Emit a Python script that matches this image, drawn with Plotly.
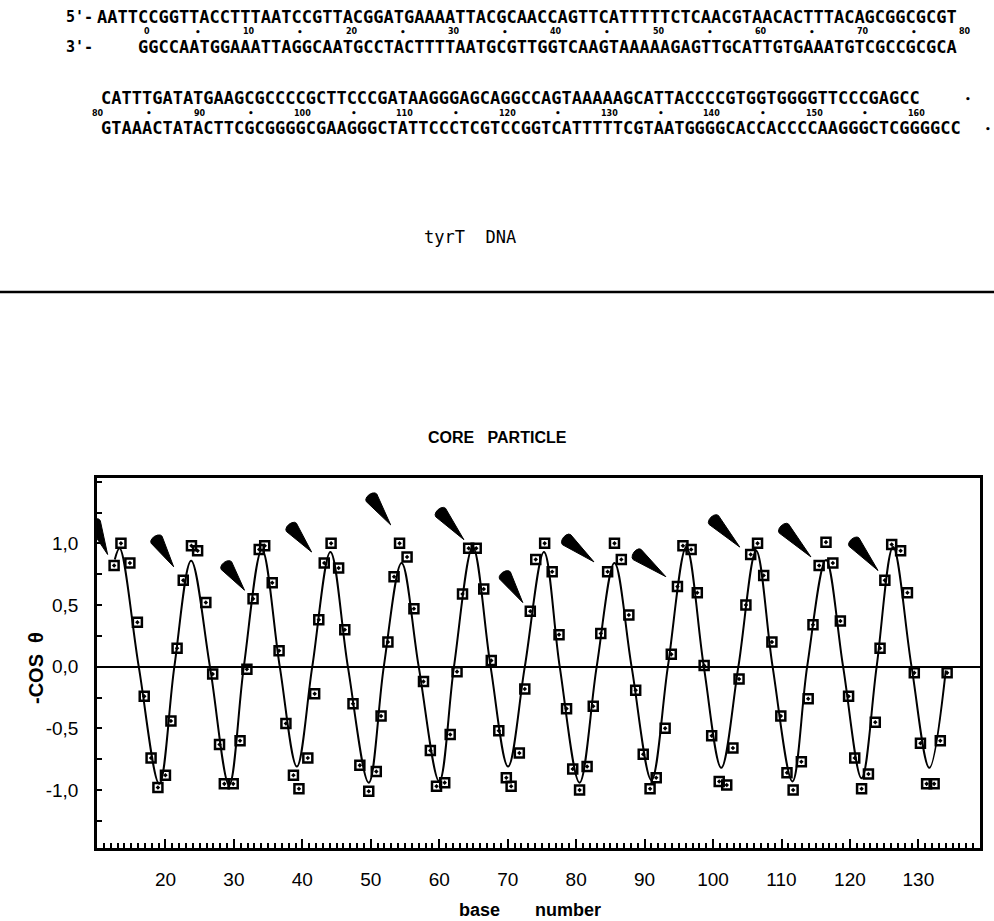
import math
import plotly.graph_objects as go

# ---------------- data ----------------
seq_top_5 = "AATTCCGGTTACCTTTAATCCGTTACGGATGAAAATTACGCAACCAGTTCATTTTTCTCAACGTAACACTTTACAGCGGCGCGT"
seq_top_3 = "GGCCAATGGAAATTAGGCAATGCCTACTTTTAATGCGTTGGTCAAGTAAAAAGAGTTGCATTGTGAAATGTCGCCGCGCA"
seq_bot_5 = "CATTTGATATGAAGCGCCCCGCTTCCCGATAAGGGAGCAGGCCAGTAAAAAGCATTACCCCGTGGTGGGGTTCCCGAGCC"
seq_bot_3 = "GTAAACTATACTTCGCGGGGCGAAGGGCTATTCCCTCGTCCGGTCATTTTTCGTAATGGGGCACCACCCCAAGGGCTCGGGGCC"
ruler_top = [0, 5, 10, 15, 20, 25, 30, 35, 40, 45, 50, 55, 60, 65, 70, 75, 80]
ruler_bottom = [80, 85, 90, 95, 100, 105, 110, 115, 120, 125, 130, 135, 140, 145, 150, 155, 160]

base_number = [
    12.5, 13.5, 14.8, 15.9, 16.9, 17.9, 18.9, 20.0, 20.8, 21.7, 22.6, 23.8, 24.7, 25.9, 26.9,
    27.9, 28.6, 29.9, 30.9, 31.9, 32.8, 33.7, 34.5, 35.6, 36.6, 37.6, 38.7, 39.5, 40.8, 41.8,
    42.4, 43.2, 44.2, 45.3, 46.2, 47.4, 48.4, 49.7, 50.8, 51.5, 52.5, 53.4, 54.2, 55.3, 56.3,
    57.7, 58.7, 59.6, 60.8, 61.6, 62.6, 63.4, 64.3, 65.4, 66.5, 67.6, 68.7, 69.8, 70.5, 71.7,
    72.5, 73.3, 74.1, 75.4, 76.5, 77.5, 78.6, 79.5, 80.5, 81.6, 82.5, 83.6, 84.6, 85.6, 86.6,
    87.7, 88.7, 89.8, 90.8, 91.7, 93.0, 93.9, 94.8, 95.6, 96.8, 97.7, 98.7, 99.8, 100.9, 102.0,
    102.9, 103.8, 104.8, 105.5, 106.5, 107.4, 108.6, 109.9, 110.8, 111.7, 112.9, 113.9, 114.6,
    115.5, 116.5, 117.5, 118.6, 119.8, 120.7, 121.7, 122.7, 123.7, 124.4, 125.1, 126.1, 127.4,
    128.4, 129.4, 130.3, 131.2, 132.3, 133.2, 134.2,
]
minus_cos_theta = [
    0.82, 1.00, 0.84, 0.36, -0.24, -0.74, -0.98, -0.88, -0.44, 0.15, 0.70, 0.98, 0.94, 0.52, -0.06,
    -0.63, -0.95, -0.95, -0.60, -0.02, 0.55, 0.95, 0.98, 0.68, 0.13, -0.46, -0.88, -0.99, -0.74, -0.22,
    0.38, 0.84, 1.00, 0.80, 0.30, -0.30, -0.80, -1.01, -0.85, -0.40, 0.20, 0.73, 1.00, 0.89, 0.47,
    -0.12, -0.68, -0.97, -0.94, -0.55, -0.04, 0.59, 0.96, 0.96, 0.63, 0.05, -0.52, -0.90, -0.97, -0.70,
    -0.18, 0.45, 0.87, 1.00, 0.77, 0.26, -0.34, -0.83, -1.00, -0.81, -0.32, 0.27, 0.77, 1.00, 0.87,
    0.42, -0.19, -0.71, -0.99, -0.90, -0.50, 0.10, 0.65, 0.98, 0.95, 0.60, 0.01, -0.56, -0.93, -0.96,
    -0.66, -0.10, 0.50, 0.91, 1.00, 0.74, 0.20, -0.40, -0.86, -1.00, -0.77, -0.26, 0.34,
    0.82, 1.01, 0.84, 0.37, -0.24, -0.74, -0.99, -0.87, -0.45, 0.15, 0.70, 0.99, 0.94,
    0.60, -0.05, -0.62, -0.95, -0.95, -0.60, -0.05,
]

# fitted curve, read at its start, extrema, zero crossings and end
fit_x = [12.6, 13.3, 16.1, 19.1, 21.3, 23.75, 26.5, 29.3, 31.45, 34.1, 36.7, 39.2, 41.45,
         44.1, 46.65, 49.7, 51.9, 54.5, 57.0, 60.0, 62.15, 64.9, 67.5, 70.05, 72.5,
         75.3, 77.6, 80.5, 83.0, 85.6, 88.1, 91.0, 93.4, 96.1, 98.65, 101.2, 103.7,
         106.3, 108.7, 111.6, 113.75, 116.5, 119.0, 121.7, 123.9, 126.3, 129.0, 131.6, 134.0]
fit_y = [0.87, 0.96, 0.0, -0.95, 0.0, 0.86, 0.0, -0.96, 0.0, 0.95, 0.0, -0.81, 0.0,
         0.93, 0.0, -0.94, 0.0, 0.84, 0.0, -0.93, 0.0, 0.97, 0.0, -0.81, 0.0,
         0.93, 0.0, -0.94, 0.0, 0.84, 0.0, -0.92, 0.0, 0.97, 0.0, -0.82, 0.0,
         0.94, 0.0, -0.93, 0.0, 0.865, 0.0, -0.905, 0.0, 0.97, 0.0, -0.82, -0.03]

# black wedge markers: wide end (tail) and tip
arrow_tail_x = [9.6, 18.7, 28.9, 38.4, 50.1, 60.2, 69.6, 78.6, 88.9, 100.1, 110.35, 120.6]
arrow_tail_y = [1.165, 1.03, 0.82, 1.13, 1.37, 1.25, 0.74, 1.03, 0.91, 1.19, 1.12, 1.01]
arrow_tip_x = [11.55, 21.2, 31.55, 41.35, 52.9, 63.6, 72.2, 82.6, 93.1, 103.9, 114.3, 124.1]
arrow_tip_y = [0.91, 0.81, 0.62, 0.93, 1.15, 1.03, 0.52, 0.85, 0.73, 0.97, 0.89, 0.78]

x_tick_vals = [20, 30, 40, 50, 60, 70, 80, 90, 100, 110, 120, 130]
x_minor_vals = [v for v in range(10, 140) if v % 10 != 0]
y_tick_vals = [-1.0, -0.5, 0.0, 0.5, 1.0]
y_tick_text = ["-1,0", "-0,5", "0,0", "0,5", "1,0"]
y_minor_vals = [-1.25, -0.75, -0.25, 0.25, 0.75, 1.25, 1.5]

# ---------------- layout geometry ----------------
W, H = 994, 921
ML, MR, MT, MB = 97, 14, 478, 73
PW, PH = W - ML - MR, H - MT - MB
XR = [10.0, 139.0]
YR = [-1.47, 1.53]
SX = PW / (XR[1] - XR[0])
SY = PH / (YR[1] - YR[0])


def pxx(x):
    return (x - ML) / PW


def pyy(y):
    return (H - MB - y) / PH


SANS = "Liberation Sans, Arial, Helvetica, sans-serif"
MONO = "DejaVu Sans Mono, Liberation Mono, monospace"

fig = go.Figure()

# wedges
wx, wy = [], []
for bx, by, tx, ty in zip(arrow_tail_x, arrow_tail_y, arrow_tip_x, arrow_tip_y):
    dxp = (tx - bx) * SX
    dyp = (ty - by) * SY
    L = math.hypot(dxp, dyp)
    ux, uy = dxp / L, dyp / L
    nx, ny = -uy, ux
    hw = 6.5
    pts = [(tx, ty)]
    for a in range(-90, 91, 30):
        r = math.radians(a)
        ox = hw * (math.sin(r) * nx - math.cos(r) * ux * 0.6)
        oy = hw * (math.sin(r) * ny - math.cos(r) * uy * 0.6)
        pts.append((bx + ox / SX, by + oy / SY))
    pts.append((tx, ty))
    for p in pts:
        wx.append(p[0])
        wy.append(p[1])
    wx.append(None)
    wy.append(None)

fig.add_trace(go.Scatter(x=wx, y=wy, mode="lines", fill="toself", fillcolor="black",
                         line=dict(color="black", width=1), hoverinfo="skip", showlegend=False))

fig.add_trace(go.Scatter(x=fit_x, y=fit_y, mode="lines",
                         line=dict(color="black", width=2, shape="spline", smoothing=1.0),
                         hoverinfo="skip", showlegend=False))

fig.add_trace(go.Scatter(x=base_number, y=minus_cos_theta, mode="markers",
                         marker=dict(symbol="square-open-dot", size=9, color="black",
                                     line=dict(color="black", width=2.5)),
                         showlegend=False))

ann = []


def add_text(text, x, y, size, family=SANS, xanchor="center", yanchor="middle", bold=False,
             angle=0):
    t = "<b>" + text + "</b>" if bold else text
    ann.append(dict(text=t, x=pxx(x), y=pyy(y), xref="paper", yref="paper", showarrow=False,
                    xanchor=xanchor, yanchor=yanchor, textangle=angle,
                    font=dict(family=family, size=size, color="black")))


PITCH = 10.23
# sequences
add_text("5'-", 95, 17, 15, family=MONO, xanchor="right", bold=True)
add_text(seq_top_5, 95, 17, 17, family=MONO, xanchor="left", bold=True)
add_text("3'-", 95, 47, 15, family=MONO, xanchor="right", bold=True)
add_text(seq_top_3, 95 + 4 * PITCH, 47, 17, family=MONO, xanchor="left", bold=True)
for k in ruler_top:
    lab = str(k) if k % 10 == 0 else "•"
    add_text(lab, 147 + k * PITCH, 32, 8 if k % 10 == 0 else 9, family="DejaVu Sans", bold=True)

add_text(seq_bot_5, 99, 98, 17, family=MONO, xanchor="left", bold=True)
add_text("•", 968, 99, 9, family="DejaVu Sans", bold=True)
add_text(seq_bot_3, 99, 128, 17, family=MONO, xanchor="left", bold=True)
add_text("•", 988, 129, 9, family="DejaVu Sans", bold=True)
for k in ruler_bottom:
    lab = str(k) if k % 10 == 0 else "•"
    add_text(lab, 98 + (k - 80) * PITCH, 113, 8 if k % 10 == 0 else 9, family="DejaVu Sans",
             bold=True)

add_text("tyrT\u00a0\u00a0DNA", 470, 237, 17, family=MONO)
add_text("CORE\u00a0\u00a0\u00a0PARTICLE", 497, 437, 16, bold=True)
add_text("base", 479, 910, 18, bold=True)
add_text("number", 568, 910, 18, bold=True)
add_text("<b>-COS\u00a0\u00a0θ</b>", 36, 668, 20, angle=-90)

fig.update_layout(
    width=W, height=H, autosize=False,
    margin=dict(l=ML, r=MR, t=MT, b=MB, pad=0),
    paper_bgcolor="white", plot_bgcolor="white",
    annotations=ann,
    shapes=[dict(type="line", xref="paper", yref="paper", x0=pxx(0), x1=pxx(W),
                 y0=pyy(292), y1=pyy(292), line=dict(color="black", width=2.5))],
    xaxis=dict(range=XR, showgrid=False, zeroline=False, showline=True, linecolor="black",
               linewidth=2.5, mirror=True, tickmode="array", tickvals=x_tick_vals,
               ticks="inside", ticklen=9, tickwidth=1.6, tickcolor="black",
               ticklabelstandoff=12,
               tickfont=dict(family=SANS, size=19, color="black"),
               minor=dict(tickmode="array", tickvals=x_minor_vals, ticks="inside", ticklen=5,
                          tickwidth=1.5, tickcolor="black", showgrid=False)),
    yaxis=dict(range=YR, showgrid=False, zeroline=True, zerolinecolor="black",
               zerolinewidth=2, showline=True, linecolor="black", linewidth=2.5, mirror=True,
               tickmode="array", tickvals=y_tick_vals, ticktext=y_tick_text,
               ticks="inside", ticklen=5, tickwidth=1.5, tickcolor="black",
               ticklabelstandoff=12,
               tickfont=dict(family=SANS, size=19, color="black"),
               minor=dict(tickmode="array", tickvals=y_minor_vals, ticks="inside", ticklen=5,
                          tickwidth=1.5, tickcolor="black", showgrid=False)),
)

fig.write_html("out.html")
